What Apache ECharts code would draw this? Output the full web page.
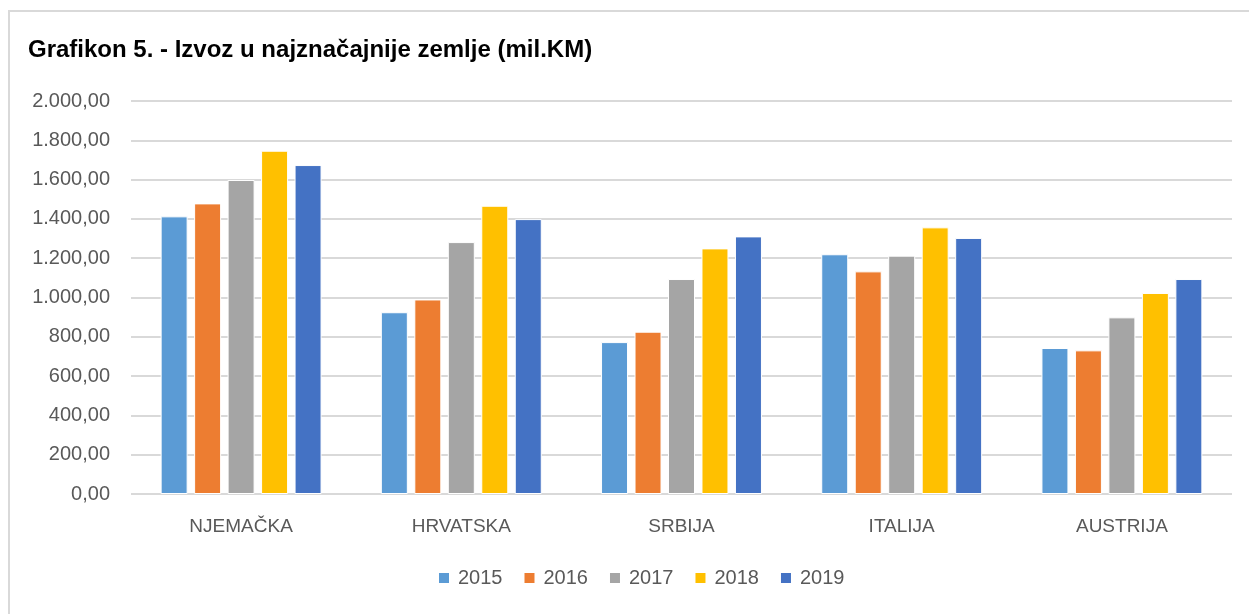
<!DOCTYPE html>
<html>
<head>
<meta charset="utf-8">
<script src="https://cdn.jsdelivr.net/npm/echarts@6/dist/echarts.min.js"></script>
<style>
  html, body { margin: 0; padding: 0; background: #fff; }
  #chart { width: 1249px; height: 614px; }
  #frame {
    position: absolute; left: 8px; top: 10px; width: 1260px; height: 620px;
    border-left: 2px solid #d9d9d9; border-top: 2px solid #d9d9d9;
    pointer-events: none;
  }
</style>
</head>
<body>
<div id="chart"></div>
<div id="frame"></div>
<script>
// podaci procitani sa grafikona (mil. KM)
const countries = ['NJEMAČKA', 'HRVATSKA', 'SRBIJA', 'ITALIJA', 'AUSTRIJA']
const years = ['2015', '2016', '2017', '2018', '2019']
const v2015 = [1413, 925, 773, 1220, 743]
const v2016 = [1479, 990, 826, 1133, 731]
const v2017 = [1598, 1282, 1094, 1213, 899]
const v2018 = [1747, 1467, 1250, 1357, 1023]
const v2019 = [1674, 1399, 1311, 1303, 1094]
const yMin = 0
const yMax = 2000
const yStep = 200

const colors = ['#5b9bd5', '#ed7d31', '#a5a5a5', '#ffc000', '#4472c4']
const values = [v2015, v2016, v2017, v2018, v2019]

// 2000 -> "2.000,00"
function fmt(v) {
  const int = Math.floor(v).toString().replace(/\B(?=(\d{3})+(?!\d))/g, '.')
  return int + ',00'
}

const chart = echarts.init(document.getElementById('chart'))

chart.setOption({
  animation: false,
  color: colors,
  title: {
    text: 'Grafikon 5. - Izvoz u najznačajnije zemlje (mil.KM)',
    left: 23,
    top: 33,
    textStyle: {
      fontFamily: 'Liberation Sans',
      fontSize: 24,
      fontWeight: 'bold',
      color: '#000'
    }
  },
  legend: {
    bottom: 21,
    left: 432,
    itemWidth: 12,
    itemHeight: 12,
    itemGap: 20,
    icon: 'rect',
    textStyle: {
      fontFamily: 'Liberation Sans',
      fontSize: 20,
      color: '#595959',
      padding: [0, 0, 0, 3]
    },
    data: years
  },
  grid: {
    left: 131,
    right: 17,
    top: 101,
    bottom: 120,
    containLabel: false
  },
  xAxis: {
    type: 'category',
    data: countries,
    axisLine: { show: false },
    axisTick: { show: false },
    axisLabel: {
      margin: 23,
      fontFamily: 'Liberation Sans',
      fontSize: 19,
      color: '#595959'
    }
  },
  yAxis: {
    type: 'value',
    min: yMin,
    max: yMax,
    interval: yStep,
    axisLine: { show: false },
    axisTick: { show: false },
    splitLine: { lineStyle: { color: '#d9d9d9', width: 2 } },
    axisLabel: {
      margin: 21,
      fontFamily: 'Liberation Sans',
      fontSize: 20,
      color: '#595959',
      formatter: fmt
    }
  },
  series: years.map((y, i) => ({
    name: y,
    type: 'bar',
    data: values[i],
    barWidth: 27,
    barGap: '24%',
    itemStyle: { borderColor: '#fff', borderWidth: 1 }
  }))
})
</script>
</body>
</html>
